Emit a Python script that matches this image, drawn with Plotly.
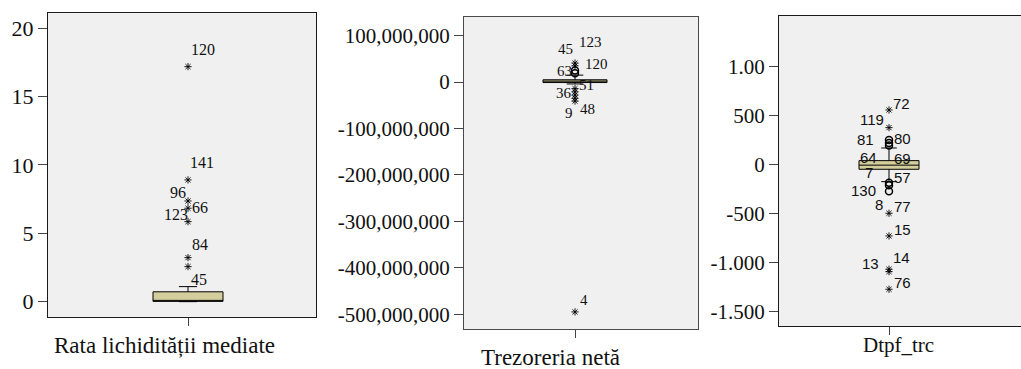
import plotly.graph_objects as go

W, H = 1021, 369

# ---------------- data ----------------
# box statistics: [lower whisker, Q1, median, Q3, upper whisker]
p1_title = "Rata lichidității mediate"
p1_stats = [0.0, 0.02, 0.06, 0.72, 1.10]
p1_circles = []
p1_stars = [17.18, 8.90, 7.36, 6.83, 5.85, 3.22, 2.56]
p1_ticks = [0, 5, 10, 15, 20]
p1_ticktext = ["0", "5", "10", "15", "20"]
p1_label_text = ["120", "141", "96", "66", "123", "84", "45"]
p1_label_value = [17.18, 8.90, 7.36, 6.83, 5.85, 3.22, 2.56]

p2_title = "Trezoreria netă"
p2_stats = [-4e6, -1e6, 2e6, 5e6, 15e6]
p2_circles = [25e6, 19e6]
p2_stars = [41e6, 35e6, -14e6, -21e6, -28e6, -35e6, -41e6, -495e6]
p2_ticks = [100e6, 0, -100e6, -200e6, -300e6, -400e6, -500e6]
p2_ticktext = ["100,000,000", "0", "-100,000,000", "-200,000,000",
               "-300,000,000", "-400,000,000", "-500,000,000"]
p2_label_text = ["45", "123", "120", "63", "51", "36", "9", "48", "4"]
p2_label_value = [41e6, 41e6, 35e6, 25e6, -14e6, -21e6, -41e6, -41e6, -495e6]

p3_title = "Dtpf_trc"
p3_stats = [-173, -47, -5, 41, 170]
p3_circles = [251, 221, 195, -185, -210, -270]
p3_stars = [557, 377, -495, -726, -1065, -1089, -1269]
p3_ticks = [1000, 500, 0, -500, -1000, -1500]
p3_ticktext = ["1.00", "500", "0", "-500", "-1.000", "-1.500"]
p3_label_text = ["72", "119", "81", "80", "64", "69", "7", "57", "130",
                 "8", "77", "15", "14", "13", "76"]
p3_label_value = [557, 377, 251, 251, 195, 195, -185, -185, -270,
                  -495, -495, -726, -1065, -1089, -1269]

# ---------------- layout / style ----------------
# pixel frames of each plot area: (left, top, right, bottom)
frames = [(48, 13.3, 316, 316.7), (464, 17, 698, 329), (779, 15.5, 1021, 326)]
yranges = [(-1.10, 21.08), (-531.8e6, 140.2e6), (-1643, 1519)]
box_px = [188, 575, 889]          # box centre (px)
box_w_px = [70, 64, 60]           # box width (px)
title_px = [(164, 345), (550, 357), (898, 345)]
title_size = [23, 23, 21]
tick_size = [22, 21, 21]
label_font = [("Liberation Serif", 16), ("Liberation Serif", 15), ("Liberation Sans", 15)]
frame_color = ["#1a1a1a", "#4a4a4a", "#1a1a1a"]

p1_label_off = [(15, -16.7), (14, -17), (-10, -8), (12, -1), (-12, -7),
                (11.5, -13.5), (10.5, 12.6)]
p2_label_off = [(-10, -14), (15, -21), (21, -1.9), (-11, 0.5), (11, -3.6),
                (-11, 1.2), (-6, 11.9), (12, 7.9), (9, -12)]
p3_label_off = [(12, -6), (-17, -7.7), (-23.5, -1), (13, -2), (-21, 11.5),
                (13, 12.5), (-20, -10), (13, -5), (-26, -0.5), (-10, -8.8),
                (13, -6.3), (13, -6), (12, -11.3), (-19, -8.6), (13, -6.3)]

panels = [
    (p1_stats, p1_circles, p1_stars, p1_ticks, p1_ticktext, p1_label_text, p1_label_value, p1_label_off, p1_title),
    (p2_stats, p2_circles, p2_stars, p2_ticks, p2_ticktext, p2_label_text, p2_label_value, p2_label_off, p2_title),
    (p3_stats, p3_circles, p3_stars, p3_ticks, p3_ticktext, p3_label_text, p3_label_value, p3_label_off, p3_title),
]

BOX_FILL = "#d4ce9c"
fig = go.Figure()
annotations = []
layout = dict(width=W, height=H, margin=dict(l=0, r=0, t=0, b=0, pad=0),
              paper_bgcolor="white", plot_bgcolor="#f0f0f0", showlegend=False)

for i, (stats, circles, stars, ticks, ticktext, ltext, lval, loff, title) in enumerate(panels):
    n = "" if i == 0 else str(i + 1)
    xa, ya = "x" + n, "y" + n
    L, T, R, B = frames[i]
    pw = R - L
    f = (box_px[i] - L) / pw
    xr = [-2 * f, 2 * (1 - f)]
    bw = box_w_px[i] / pw * 2

    fig.add_trace(go.Box(
        x=[0], lowerfence=[stats[0]], q1=[stats[1]], median=[stats[2]],
        q3=[stats[3]], upperfence=[stats[4]], width=bw, whiskerwidth=0.26,
        fillcolor=BOX_FILL, line=dict(color="black", width=1), boxpoints=False,
        hoverinfo="skip", xaxis=xa, yaxis=ya))
    if circles:
        fig.add_trace(go.Scatter(
            x=[0] * len(circles), y=circles, mode="markers",
            marker=dict(symbol="circle-open", size=7, color="black", line=dict(width=1.5)),
            hoverinfo="skip", xaxis=xa, yaxis=ya))
    fig.add_trace(go.Scatter(
        x=[0] * len(stars), y=stars, mode="markers",
        marker=dict(symbol="asterisk-open", size=6, color="black", line=dict(width=0.9, color="black")),
        hoverinfo="skip", xaxis=xa, yaxis=ya))

    fam, fs = label_font[i]
    for t, v, (dx, dy) in zip(ltext, lval, loff):
        annotations.append(dict(
            x=0, y=v, xref=xa, yref=ya, text=t, showarrow=False,
            xshift=dx, yshift=-dy, xanchor="center", yanchor="middle",
            font=dict(family=fam, size=fs, color="#111")))

    tx, ty = title_px[i]
    annotations.append(dict(
        x=tx / W, y=1 - ty / H, xref="paper", yref="paper", text=title,
        showarrow=False, xanchor="center", yanchor="middle",
        font=dict(family="Liberation Serif", size=title_size[i], color="#111")))

    layout["xaxis" + n] = dict(
        domain=[L / W, min(R / W, 1.0)], range=xr, anchor=ya,
        showgrid=False, zeroline=False, showline=True, mirror=True,
        linecolor=frame_color[i], linewidth=1, ticks="outside", ticklen=8,
        tickcolor="#444", tickvals=[0], showticklabels=False, fixedrange=True)
    layout["yaxis" + n] = dict(
        domain=[1 - B / H, 1 - T / H], range=list(yranges[i]), anchor=xa,
        showgrid=False, zeroline=False, showline=True, mirror=(i < 2),
        linecolor=frame_color[i], linewidth=1, ticks="outside", ticklen=9,
        tickcolor="#444", tickvals=ticks, ticktext=ticktext,
        tickfont=dict(family="Liberation Serif", size=tick_size[i], color="#111"),
        fixedrange=True, automargin=False)

layout["annotations"] = annotations
fig.update_layout(**layout)
fig.write_html("out.html")
